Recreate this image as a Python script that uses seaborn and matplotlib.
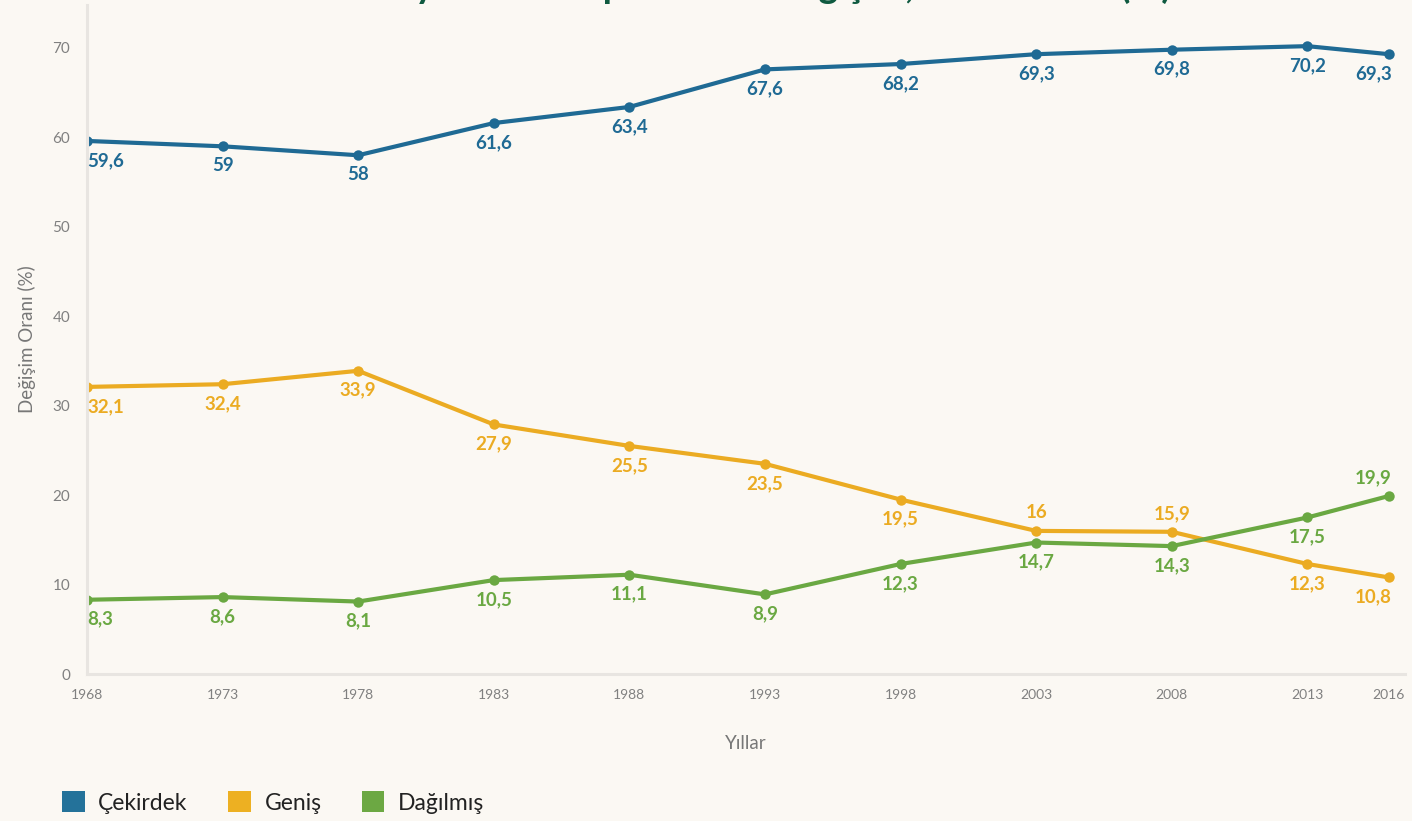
import pandas as pd
import numpy as np
import seaborn as sns
import matplotlib.pyplot as plt
from matplotlib.patches import Patch

# veriler
yillar = [1968, 1973, 1978, 1983, 1988, 1993, 1998, 2003, 2008, 2013, 2016]
cekirdek = [59.6, 59, 58, 61.6, 63.4, 67.6, 68.2, 69.3, 69.8, 70.2, 69.3]
genis = [32.1, 32.4, 33.9, 27.9, 25.5, 23.5, 19.5, 16, 15.9, 12.3, 10.8]
dagilmis = [8.3, 8.6, 8.1, 10.5, 11.1, 8.9, 12.3, 14.7, 14.3, 17.5, 19.9]
seri_adlari = ['Çekirdek', 'Geniş', 'Dağılmış']
y_ticks = [0, 10, 20, 30, 40, 50, 60, 70]

renkler = {'Çekirdek': '#1f6a94', 'Geniş': '#ebab22', 'Dağılmış': '#6aa842'}
legend_renk = {'Çekirdek': '#24729a', 'Geniş': '#edb022', 'Dağılmış': '#6ca843'}
bg = '#fbf8f3'
eksen = '#e8e5e1'

df = pd.DataFrame({
    'Yıl': yillar * 3,
    'Oran': cekirdek + genis + dagilmis,
    'Tür': sum([[s] * len(yillar) for s in seri_adlari], []),
})

sns.set_style('white')
plt.rcParams['font.family'] = ['Lato', 'DejaVu Sans']

fig = plt.figure(figsize=(14.12, 8.21), dpi=100, facecolor=bg)
ax = fig.add_axes([87 / 1412, 147 / 821, (1405 - 87) / 1412, (816 - 147) / 821])
ax.set_facecolor(bg)

sns.lineplot(data=df, x='Yıl', y='Oran', hue='Tür', palette=renkler,
             linewidth=3, marker='o', markersize=7.5, markeredgewidth=0,
             legend=False, ax=ax)

# etiketler: altta / üstte
ustte = {('Geniş', 2003), ('Geniş', 2008), ('Dağılmış', 2016)}
for _, r in df.iterrows():
    yukari = (r['Tür'], r['Yıl']) in ustte
    dy = 13 if yukari else -14
    ha = 'center'
    if r['Yıl'] == yillar[0]:
        ha = 'left'
    elif r['Yıl'] == yillar[-1]:
        ha = 'right'
    dx = 0
    if ha == 'right':
        dx = 2
    etiket = f"{r['Oran']:g}".replace('.', ',')
    ax.annotate(etiket, (r['Yıl'], r['Oran']), xytext=(dx, dy),
                textcoords='offset points', ha=ha, va='center',
                fontsize=13.5, fontweight='bold', color=renkler[r['Tür']])

ax.set_xlim(1968, 2016.6)
ax.set_ylim(0, 74.8)
ax.set_xticks(yillar)
ax.set_xticklabels([str(y) for y in yillar])
ax.set_yticks(y_ticks)

for s in ['top', 'right']:
    ax.spines[s].set_visible(False)
for s in ['left', 'bottom']:
    ax.spines[s].set_color(eksen)
    ax.spines[s].set_linewidth(2.2)
ax.tick_params(axis='both', colors=eksen, labelcolor='#808080', width=2.2)
ax.tick_params(axis='y', length=7, labelsize=11, pad=5)
ax.tick_params(axis='x', length=6, labelsize=10, pad=5)

ax.set_xlabel('Yıllar', fontsize=13.5, color='#777777', labelpad=24)
ax.set_ylabel('Değişim Oranı (%)', fontsize=13.5, color='#777777', labelpad=12)

# başlık (üstten kesik)
fig.text(1172 / 1412, 1.003, "Türkiye'de aile tiplerindeki değişim, 1968-2016 (%)",
         ha='right', va='baseline', fontsize=27, fontweight='bold', color='#0f5a40')

handles = [Patch(facecolor=legend_renk[s], edgecolor='none', label=s) for s in seri_adlari]
fig.legend(handles=handles, loc='lower left', bbox_to_anchor=(41 / 1412, -0.016), ncol=3,
           frameon=False, fontsize=16.5, handlelength=1.0, handleheight=1.0,
           handletextpad=0.6, columnspacing=1.75, labelcolor='#222222')

fig.savefig('out.png', dpi=100, facecolor=bg)
